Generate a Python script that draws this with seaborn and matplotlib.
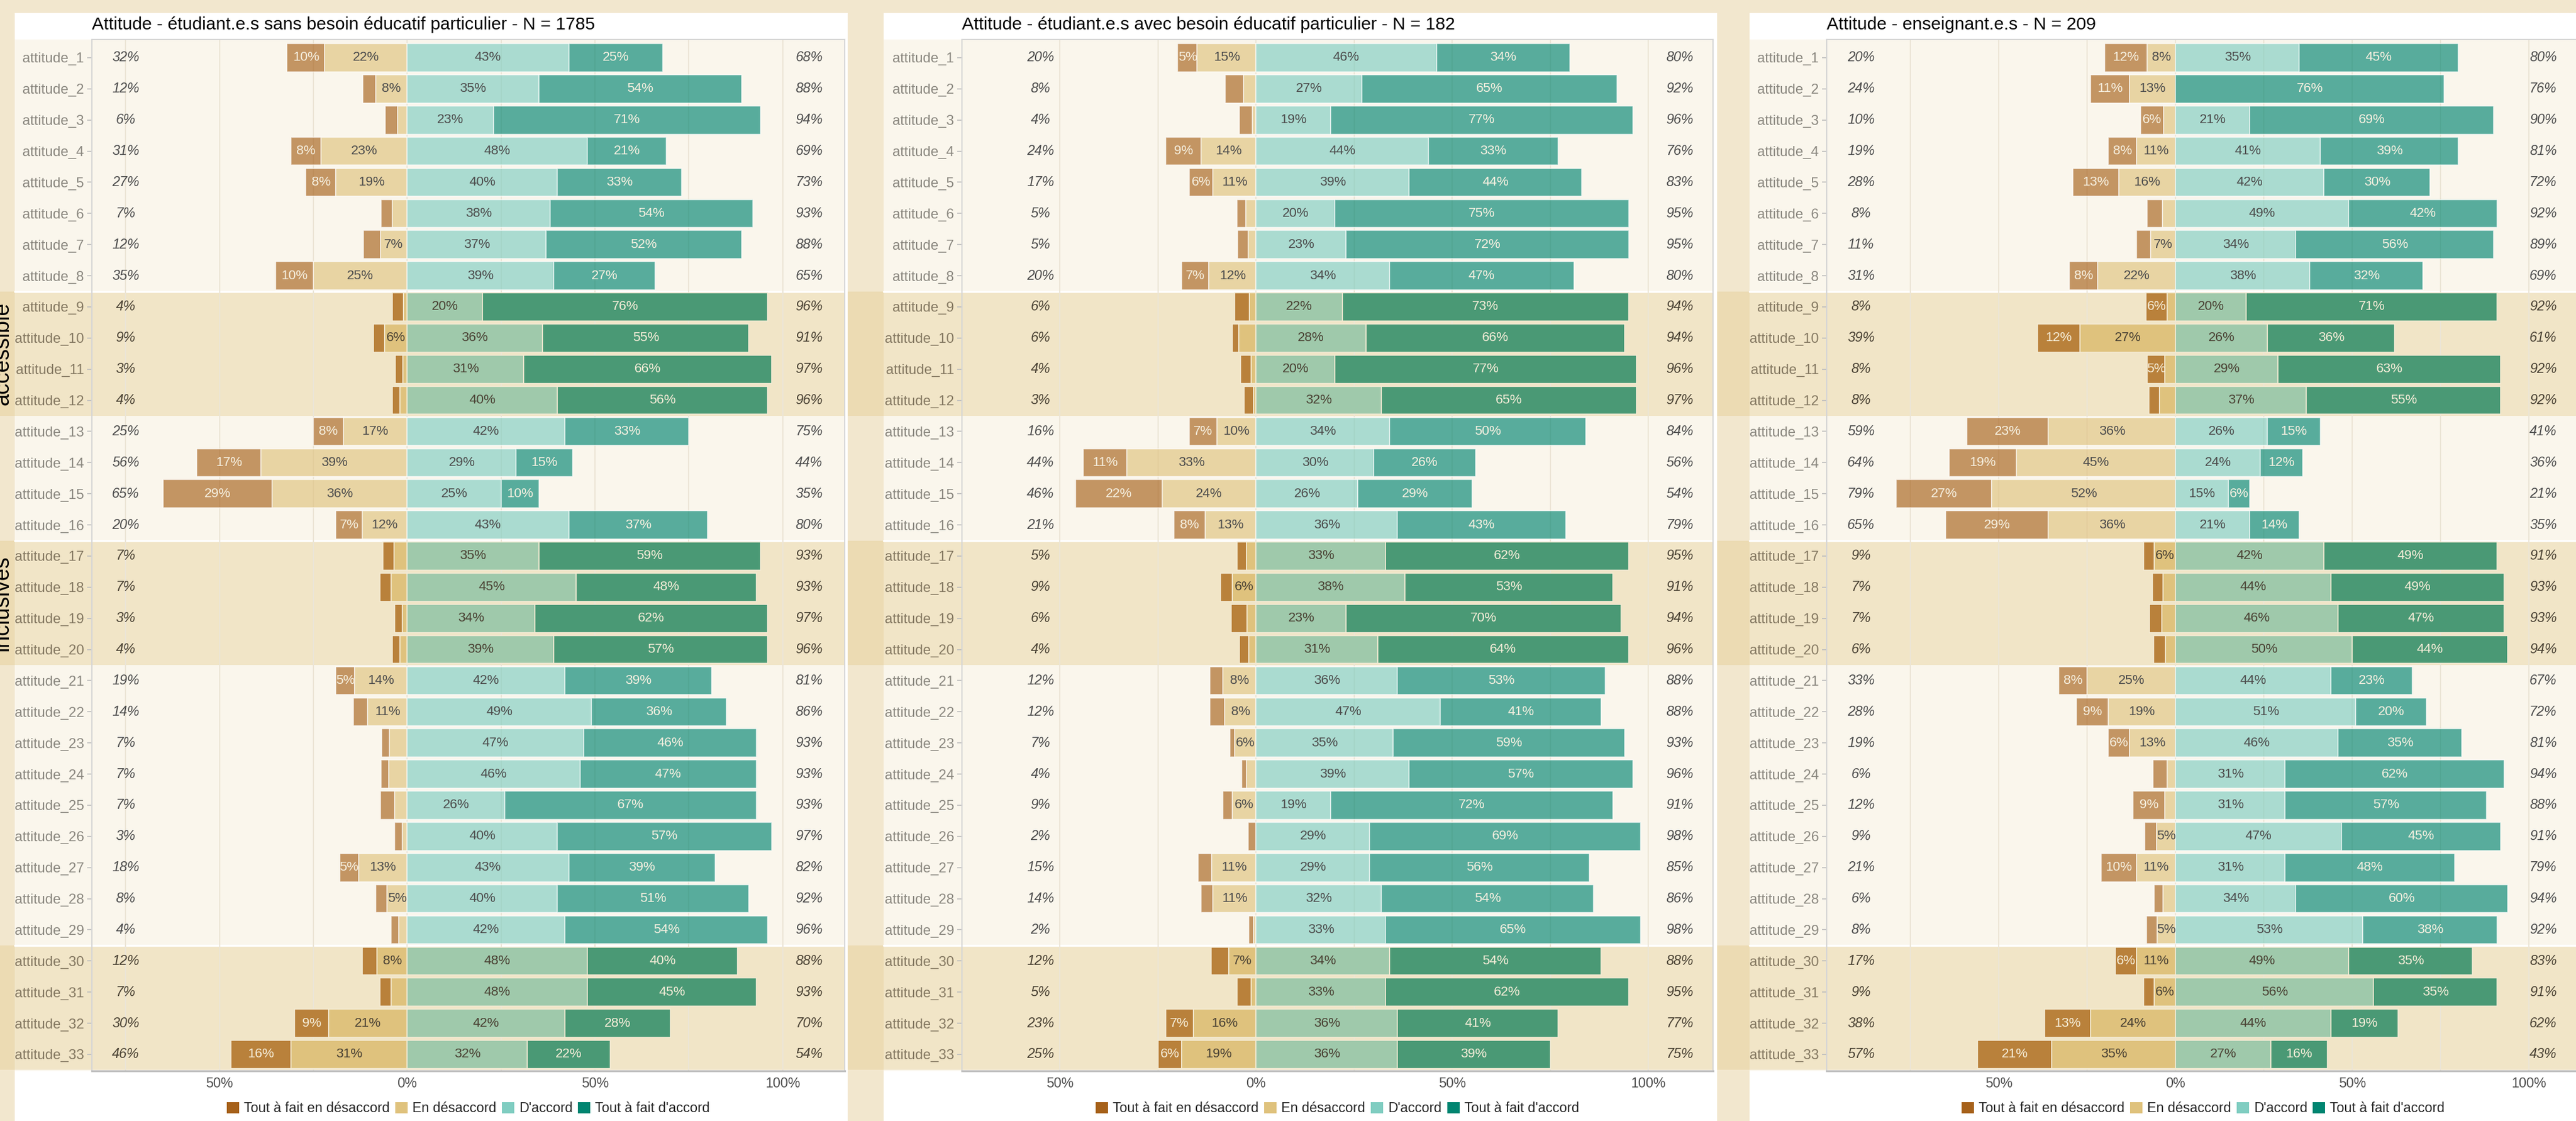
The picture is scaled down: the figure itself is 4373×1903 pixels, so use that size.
import seaborn as sns
import matplotlib.pyplot as plt
from matplotlib.colors import to_rgb
from matplotlib.patches import Rectangle, Patch
from matplotlib.lines import Line2D
from matplotlib.transforms import blended_transform_factory as blend

W, H, DPI = 4373, 1903, 300

items = ['attitude_' + str(i) for i in range(1, 34)]
levels = ['Tout à fait en désaccord', 'En désaccord', "D'accord", "Tout à fait d'accord"]

# étudiant.e.s sans besoin éducatif particulier
sans_tfd = [10, 3.5, 3.3, 8, 8, 3, 4.5, 10, 3, 3, 2, 2, 8, 17, 29, 7, 3, 3, 2, 2,
            5, 3.8, 2, 2, 3.7, 2, 5, 3, 2, 4, 3, 9, 16]
sans_dis = [22, 8.4, 2.5, 23, 19, 4, 7.2, 25, 1, 6, 1.2, 2, 17, 39, 36, 12, 3.5, 4.3, 1.3, 2,
            14, 10.6, 4.8, 4.9, 3.4, 1.3, 13, 5.4, 2.3, 8, 4.3, 21, 31]
sans_agr = [43, 35, 23, 48, 40, 38, 37, 39, 20, 36, 31, 40, 42, 29, 25, 43, 35, 45, 34, 39,
            42, 49, 47, 46, 26, 40, 43, 40, 42, 48, 48, 42, 32]
sans_tfa = [25, 54, 71, 21, 33, 54, 52, 27, 76, 55, 66, 56, 33, 15, 10, 37, 59, 48, 62, 57,
            39, 36, 46, 47, 67, 57, 39, 51, 54, 40, 45, 28, 22]
sans_neg = [32, 12, 6, 31, 27, 7, 12, 35, 4, 9, 3, 4, 25, 56, 65, 20, 7, 7, 3, 4,
            19, 14, 7, 7, 7, 3, 18, 8, 4, 12, 7, 30, 46]
sans_pos = [68, 88, 94, 69, 73, 93, 88, 65, 96, 91, 97, 96, 75, 44, 35, 80, 93, 93, 97, 96,
            81, 86, 93, 93, 93, 97, 82, 92, 96, 88, 93, 70, 54]

# étudiant.e.s avec besoin éducatif particulier
avec_tfd = [5, 4.7, 3.3, 9, 6, 2.3, 2.7, 7, 3.8, 1.7, 2.7, 2.4, 7, 11, 22, 8, 2.4, 3, 4, 2.5,
            3.4, 3.8, 1.2, 1.2, 2.5, 2, 3.5, 3, 1.2, 4.5, 3.6, 7, 6]
avec_dis = [15, 3.2, 1, 14, 11, 2.6, 2, 12, 1.7, 4.4, 1.2, 0.6, 10, 33, 24, 13, 2.4, 6, 2.3, 1.8,
            8.4, 8, 5.5, 2.4, 6, 0, 11.3, 11, 0.6, 7, 1.2, 16, 19]
avec_agr = [46, 27, 19, 44, 39, 20, 23, 34, 22, 28, 20, 32, 34, 30, 26, 36, 33, 38, 23, 31,
            36, 47, 35, 39, 19, 29, 29, 32, 33, 34, 33, 36, 36]
avec_tfa = [34, 65, 77, 33, 44, 75, 72, 47, 73, 66, 77, 65, 50, 26, 29, 43, 62, 53, 70, 64,
            53, 41, 59, 57, 72, 69, 56, 54, 65, 54, 62, 41, 39]
avec_neg = [20, 8, 4, 24, 17, 5, 5, 20, 6, 6, 4, 3, 16, 44, 46, 21, 5, 9, 6, 4,
            12, 12, 7, 4, 9, 2, 15, 14, 2, 12, 5, 23, 25]
avec_pos = [80, 92, 96, 76, 83, 95, 95, 80, 94, 94, 96, 97, 84, 56, 54, 79, 95, 91, 94, 96,
            88, 88, 93, 96, 91, 98, 85, 86, 98, 88, 95, 77, 75]

# enseignant.e.s
ens_tfd = [12, 11, 6.4, 8, 13, 4.3, 4, 8, 6, 12, 5, 3, 23, 19, 27, 29, 3, 3, 3.5, 3.4,
           8, 9, 6, 4, 9, 3.3, 10, 2.6, 3, 6, 3, 13, 21]
ens_dis = [8, 13, 3.4, 11, 16, 3.7, 7, 22, 2.4, 27, 3, 4.5, 36, 45, 52, 36, 6, 3.5, 3.8, 2.8,
           25, 19, 13, 2.3, 3, 5.4, 11, 3.5, 5.2, 11, 6, 24, 35]
ens_agr = [35, 0, 21, 41, 42, 49, 34, 38, 20, 26, 29, 37, 26, 24, 15, 21, 42, 44, 46, 50,
           44, 51, 46, 31, 31, 47, 31, 34, 53, 49, 56, 44, 27]
ens_tfa = [45, 76, 69, 39, 30, 42, 56, 32, 71, 36, 63, 55, 15, 12, 6, 14, 49, 49, 47, 44,
           23, 20, 35, 62, 57, 45, 48, 60, 38, 35, 35, 19, 16]
ens_neg = [20, 24, 10, 19, 28, 8, 11, 31, 8, 39, 8, 8, 59, 64, 79, 65, 9, 7, 7, 6,
           33, 28, 19, 6, 12, 9, 21, 6, 8, 17, 9, 38, 57]
ens_pos = [80, 76, 90, 81, 72, 92, 89, 69, 92, 61, 92, 92, 41, 36, 21, 35, 91, 93, 93, 94,
           67, 72, 81, 94, 88, 91, 79, 94, 92, 83, 91, 62, 43]

titles = ['Attitude - étudiant.e.s sans besoin éducatif particulier - N = 1785',
          'Attitude - étudiant.e.s avec besoin éducatif particulier - N = 182',
          'Attitude - enseignant.e.s - N = 209']

# highlighted row groups (first, last) and their strip labels
groups = [(9, 12, 'accessible'), (17, 20, 'inclusives'), (30, 33, '')]

sns.set_theme(style='white')
plt.rcParams['font.family'] = ['Liberation Sans', 'DejaVu Sans']

palette = sns.color_palette(['#A6611A', '#DFC27D', '#80CDC1', '#018571'])
BG = '#F2E7CE'
CREAM = '#FAF6EC'
TINT = '#DFC27D'


def tint(c, a=0.33):
    c, t = to_rgb(c), to_rgb(TINT)
    return tuple(ci * (1 - a) + ti * a for ci, ti in zip(c, t))


# pixel layout of each panel: white area, axis extent, x limits, total positions
layout = [
    dict(white=(25, 1439), axis=(156, 1434), xlim=(-84, 116.5), tot=(-75, 107)),
    dict(white=(1500, 2915), axis=(1633, 2908), xlim=(-63.6, 116.5), tot=(-55, 108)),
    dict(white=(2970, 4373), axis=(3101, 4379), xlim=(-98.7, 114.3), tot=(-89, 104)),
]
data = [
    (sans_tfd, sans_dis, sans_agr, sans_tfa, sans_neg, sans_pos),
    (avec_tfd, avec_dis, avec_agr, avec_tfa, avec_neg, avec_pos),
    (ens_tfd, ens_dis, ens_agr, ens_tfa, ens_neg, ens_pos),
]

fig = plt.figure(figsize=(W / DPI, H / DPI), dpi=DPI, facecolor=BG)

ax_top, ax_bot = 67, 1818
highlight = set()
for a, b, _ in groups:
    highlight.update(range(a, b + 1))

axes = []
for k, (lay, (tfd, dis, agr, tfa, neg, pos)) in enumerate(zip(layout, data)):
    wl, wr = lay['white']
    x0, x1 = lay['axis']
    fig.add_artist(Rectangle((wl / W, 0), (wr - wl) / W, 1 - 22 / H,
                             transform=fig.transFigure, facecolor='white', lw=0, zorder=-2))
    ax = fig.add_axes([x0 / W, 1 - ax_bot / H, (x1 - x0) / W, (ax_bot - ax_top) / H])
    ax.set_facecolor('none')
    fig.add_artist(Rectangle((wl / W, 0), (x1 - wl) / W, 1,
                             transform=blend(fig.transFigure, ax.transAxes),
                             facecolor=CREAM, lw=0, zorder=-1))
    tr = blend(fig.transFigure, ax.transData)
    for a, b, _ in groups:
        fig.add_artist(Rectangle((wl / W, a - 0.5), (x1 - wl) / W, b - a + 1, transform=tr,
                                 facecolor=tint(CREAM), lw=0, zorder=-0.5))
        fig.add_artist(Line2D([wl / W, x1 / W], [a - 0.5, a - 0.5], transform=tr,
                              color='white', lw=0.8, zorder=-0.4))
    axes.append(ax)

    for i, row in enumerate(items):
        y = i + 1
        hl = y in highlight
        dark = '#4A4234' if hl else '#4D4D4D'
        light = '#F5EDD8' if hl else '#F6F0E0'
        segs = [(-(tfd[i] + dis[i]), tfd[i]), (-dis[i], dis[i]), (0, agr[i]), (agr[i], tfa[i])]
        for j, (left, w) in enumerate(segs):
            if w <= 0:
                continue
            if hl:
                ax.barh(y, w, left=left, height=0.9, color=tint(palette[j]),
                        edgecolor=tint('white'), linewidth=0.4)
            else:
                ax.barh(y, w, left=left, height=0.9, color=palette[j], alpha=0.65,
                        edgecolor='white', linewidth=0.4)
            if w >= 5:
                ax.text(left + w / 2, y, f'{round(w)}%', ha='center', va='center',
                        fontsize=5.4, color=light if j in (0, 3) else dark)
        ax.text(lay['tot'][0], y, f'{neg[i]}%', ha='center', va='center',
                fontsize=5.6, style='italic', color=dark)
        ax.text(lay['tot'][1], y, f'{pos[i]}%', ha='center', va='center',
                fontsize=5.6, style='italic', color=dark)

    ax.set_xlim(*lay['xlim'])
    ax.set_ylim(33.53, 0.414)
    ax.set_yticks(range(1, 34))
    ax.set_yticklabels(items)
    ax.set_xticks([-50, 0, 50, 100])
    ax.set_xticklabels(['50%', '0%', '50%', '100%'])
    ax.set_xticks([-75, -25, 25, 75], minor=True)
    ax.grid(True, axis='x', which='both', color='#ECE5D6', lw=0.5)
    ax.set_axisbelow(True)
    ax.tick_params(axis='y', left=True, length=2, width=0.4, color='#BDBDBD', pad=1.2,
                   labelsize=5.7, labelcolor='#8B8880')
    for y, lab in enumerate(ax.get_yticklabels(), start=1):
        if y in highlight:
            lab.set_color('#857962')
    ax.tick_params(axis='x', which='both', length=0, pad=2.5, labelsize=5.6,
                   labelcolor='#4D4D4D')
    for side, sp in ax.spines.items():
        sp.set_color('#D5D5D5')
        sp.set_linewidth(0.5)
    ax.spines['bottom'].set_color('#BFBFBF')
    ax.spines['bottom'].set_linewidth(0.8)

    fig.text(x0 / W, 1 - 42 / H, titles[k], ha='left', va='center', fontsize=7.2, color='black')

    handles = [Patch(facecolor=c, edgecolor='none') for c in palette]
    fig.legend(handles, levels, loc='center', bbox_to_anchor=((x0 + x1) / 2 / W, 1 - 1882 / H),
               ncol=4, frameon=False, fontsize=5.6, handlelength=0.9, handleheight=0.9,
               handletextpad=0.35, columnspacing=0.4, borderaxespad=0, borderpad=0)

# highlight bands in the margins and gaps between panels
tr = blend(fig.transFigure, axes[0].transData)
for a, b, label in groups:
    fig.add_artist(Rectangle((0, a - 0.5), 1, b - a + 1, transform=tr,
                             facecolor=tint(BG), lw=0, zorder=-3))
    if label:
        fig.text(22 / W, (a + b) / 2, label, transform=tr, rotation=90, ha='right',
                 va='center', fontsize=9, color='black', zorder=20)

fig.savefig('out.png', dpi=DPI, facecolor=BG)
